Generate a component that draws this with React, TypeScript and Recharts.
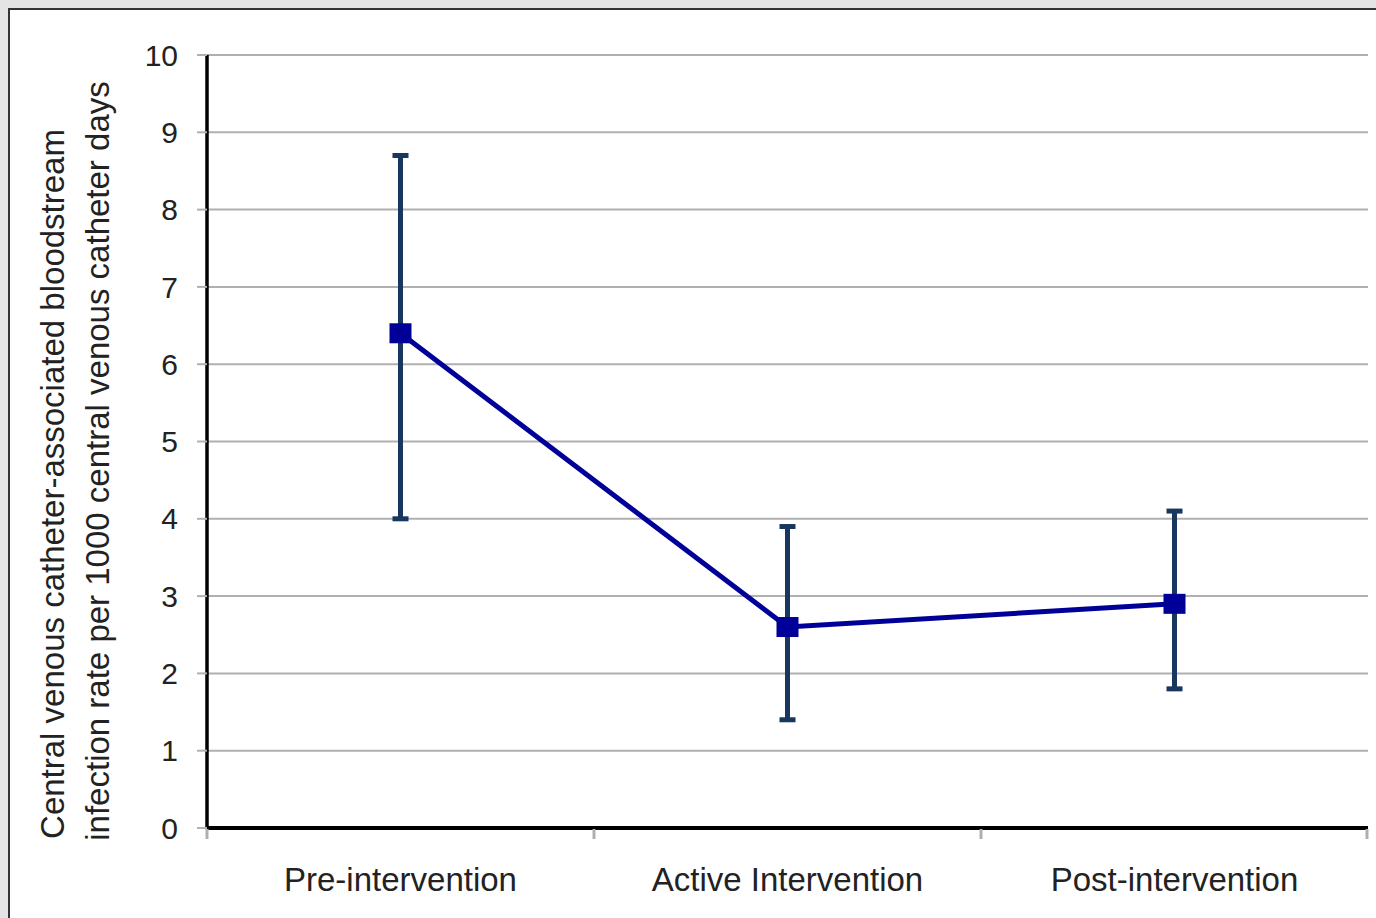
import {
  LineChart,
  Line,
  XAxis,
  YAxis,
  CartesianGrid,
  ErrorBar,
} from "recharts";

const phases = ["Pre-intervention", "Active Intervention", "Post-intervention"];
const rates = [6.4, 2.6, 2.9];
const lowerBounds = [4.0, 1.4, 1.8];
const upperBounds = [8.7, 3.9, 4.1];
const yTicks = [0, 1, 2, 3, 4, 5, 6, 7, 8, 9, 10];

const data = phases.map((phase, i) => ({
  phase,
  rate: rates[i],
  err: [rates[i] - lowerBounds[i], upperBounds[i] - rates[i]],
}));

const font = "'Liberation Sans', Arial, sans-serif";
const halfBand = 193.5;

function SquareDot(props: any) {
  const { cx, cy, index } = props;
  return (
    <rect
      key={`dot-${index}`}
      x={cx - 11}
      y={cy - 10}
      width={22}
      height={20}
      fill="#000099"
    />
  );
}

// category label plus Excel-style tick marks at the band edges
function PhaseTick(props: any) {
  const { x, y, payload, index, visibleTicksCount } = props;
  const last = index === visibleTicksCount - 1;
  return (
    <g>
      <line
        x1={x - halfBand}
        x2={x - halfBand}
        y1={y + 1}
        y2={y + 11}
        stroke="#b0b0b0"
        strokeWidth={3}
      />
      {last && (
        <line
          x1={x + halfBand - 1}
          x2={x + halfBand - 1}
          y1={y + 1}
          y2={y + 11}
          stroke="#b0b0b0"
          strokeWidth={3}
        />
      )}
      <text
        x={x}
        y={y + 40}
        dy="0.71em"
        textAnchor="middle"
        fontFamily={font}
        fontSize={33}
        fill="#222"
      >
        {payload.value}
      </text>
    </g>
  );
}

function YTitle() {
  return (
    <g fontFamily={font} fontSize={33} fill="#222">
      <text
        x={52}
        y={484}
        textAnchor="middle"
        dominantBaseline="central"
        transform="rotate(-90 52 484)"
      >
        Central venous catheter-associated bloodstream
      </text>
      <text
        x={97}
        y={461}
        textAnchor="middle"
        dominantBaseline="central"
        transform="rotate(-90 97 461)"
      >
        infection rate per 1000 central venous catheter days
      </text>
    </g>
  );
}

export default function App() {
  return (
    <div
      style={{
        position: "absolute",
        left: 0,
        top: 0,
        width: 1376,
        height: 918,
        overflow: "hidden",
        background: "#e4e4e4",
      }}
    >
      <div
        style={{
          position: "absolute",
          left: 8,
          top: 8,
          width: 1400,
          height: 960,
          border: "2px solid #333",
          background: "#fff",
        }}
      />
      <div style={{ position: "absolute", left: 0, top: 0 }}>
        <LineChart
          width={1376}
          height={918}
          data={data}
          margin={{ top: 55, right: 8, bottom: 0, left: 0 }}
        >
          <CartesianGrid
            vertical={false}
            stroke="#b0b0b0"
            strokeWidth={2}
          />
          <XAxis
            dataKey="phase"
            height={90}
            padding={{ left: halfBand, right: halfBand }}
            axisLine={{ stroke: "#000", strokeWidth: 4 }}
            tickLine={false}
            tickSize={0}
            tickMargin={0}
            interval={0}
            tick={<PhaseTick />}
          />
          <YAxis
            domain={[0, 10]}
            ticks={yTicks}
            width={207}
            tickSize={10}
            tickMargin={19}
            tickLine={{ stroke: "#b0b0b0", strokeWidth: 2 }}
            axisLine={{ stroke: "#000", strokeWidth: 3.5 }}
            tick={{ fontFamily: font, fontSize: 30, fill: "#222" }}
            label={{ content: () => <YTitle /> }}
          />
          <Line
            type="linear"
            dataKey="rate"
            stroke="#000099"
            strokeWidth={5}
            dot={SquareDot}
            activeDot={false}
            isAnimationActive={false}
          >
            <ErrorBar
              dataKey="err"
              width={8}
              stroke="#17375e"
              strokeWidth={5}
              direction="y"
            />
          </Line>
        </LineChart>
      </div>
    </div>
  );
}
